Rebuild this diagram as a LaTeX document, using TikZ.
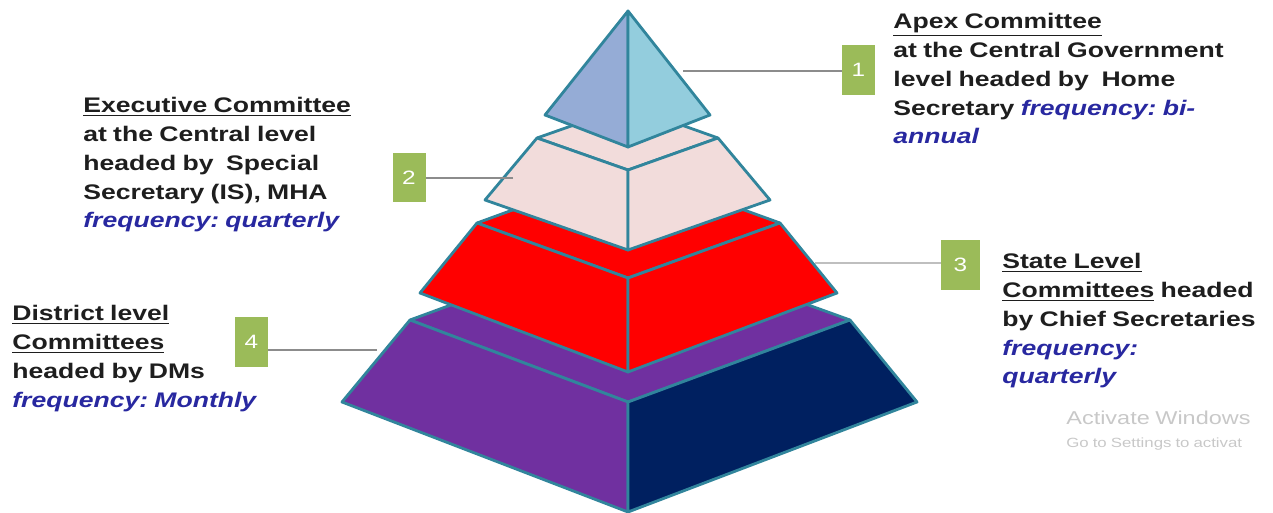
\documentclass[tikz,border=0pt]{standalone}
\usepackage{fontspec}
\setmainfont{Liberation Sans}[FakeStretch=1.26,WordSpace=0.85]
\frenchspacing
\definecolor{edge}{RGB}{49,133,156}
\definecolor{apexL}{RGB}{149,172,214}
\definecolor{apexR}{RGB}{147,205,221}
\definecolor{pinkT}{RGB}{242,220,219}
\definecolor{redT}{RGB}{255,0,0}
\definecolor{purpT}{RGB}{112,48,160}
\definecolor{navyT}{RGB}{0,32,96}
\definecolor{boxgreen}{RGB}{155,187,89}
\definecolor{txtcol}{RGB}{30,30,30}
\definecolor{fqblue}{RGB}{40,40,160}
\definecolor{wmgray}{RGB}{200,200,200}
\newcommand\freqtxt[1]{{\color{fqblue}\itshape #1}}
\begin{document}
\begin{tikzpicture}[x=0.02cm,y=-0.02cm,
  face/.style={draw=edge,line width=1.6pt,line join=round},
  numbox/.style={fill=boxgreen,text=white,minimum width=0.66cm,minimum height=1cm,inner sep=0pt,font=\fontsize{11}{12}\selectfont},
  conn/.style={draw=gray!90,line width=0.8pt},
  connlight/.style={draw=gray!50,line width=0.6pt},
  txt/.style={anchor=north west,inner sep=0pt,align=left,text=txtcol,font=\fontsize{12}{16.4}\selectfont\bfseries},
  wm/.style={anchor=north west,inner sep=0pt,text=wmgray}]
\useasboundingbox (0,0) rectangle (1273,513);
% tier 4 (purple)
\path[face,fill=purpT] (410,320) -- (628,240) -- (850,320) -- (628,402) -- cycle;
\path[face,fill=purpT] (410,320) -- (628,402) -- (628,512) -- (342,402) -- cycle;
\path[face,fill=navyT] (628,402) -- (850,320) -- (917,402) -- (628,512) -- cycle;
% tier 3 (red)
\path[face,fill=redT] (477,223) -- (628,168) -- (780,223) -- (628,278) -- cycle;
\path[face,fill=redT] (477,223) -- (628,278) -- (628,372) -- (420,293) -- cycle;
\path[face,fill=redT] (628,278) -- (780,223) -- (837,293) -- (628,372) -- cycle;
% tier 2 (pink)
\path[face,fill=pinkT] (537,138) -- (628,106) -- (718,138) -- (628,170) -- cycle;
\path[face,fill=pinkT] (537,138) -- (628,170) -- (628,250) -- (485,200) -- cycle;
\path[face,fill=pinkT] (628,170) -- (718,138) -- (770,200) -- (628,250) -- cycle;
% apex
\path[face,fill=apexL] (628,11) -- (545,115) -- (628,147) -- cycle;
\path[face,fill=apexR] (628,11) -- (628,147) -- (710,115) -- cycle;
% number boxes
\node[numbox] (b1) at (858.5,70) {1};
\node[numbox] (b2) at (409,177.5) {2};
\node[numbox,minimum width=0.78cm] (b3) at (960.5,265) {3};
\node[numbox] (b4) at (251.5,342) {4};
% connector ends
\coordinate (c1) at (683,71);
\coordinate (c2) at (513,178);
\coordinate (c3) at (815,263);
\coordinate (c4) at (377,350);
\draw[conn] (c1) -- (c1 -| b1.west);
\draw[conn] (c2) -- (c2 -| b2.east);
\draw[connlight] (c3) -- (c3 -| b3.west);
\draw[conn] (c4) -- (c4 -| b4.east);
% texts
\node[txt] (t1) at (893,13) {\underline{Apex Committee}\\at the Central Government\\level headed by\ \ Home\\Secretary \freqtxt{frequency: bi-}\\\freqtxt{annual}};
\node[txt] (t2) at (83,97) {\underline{Executive Committee}\\at the Central level\\headed by\ \ Special\\Secretary (IS), MHA\\\freqtxt{frequency: quarterly}};
\node[txt] (t3) at (1002,253) {\underline{State Level}\\\underline{Committees} headed\\by Chief Secretaries\\\freqtxt{frequency:}\\\freqtxt{quarterly}};
\node[txt] (t4) at (12,305) {\underline{District level}\\\underline{Committees}\\headed by DMs\\\freqtxt{frequency: Monthly}};
% watermark
\node[wm,font=\fontsize{10.6}{12}\selectfont] (w1) at (1066,411) {Activate Windows};
\node[wm,font=\fontsize{7.6}{9}\selectfont] (w2) at (1066,437) {Go to Settings to activat};
\end{tikzpicture}
\end{document}
